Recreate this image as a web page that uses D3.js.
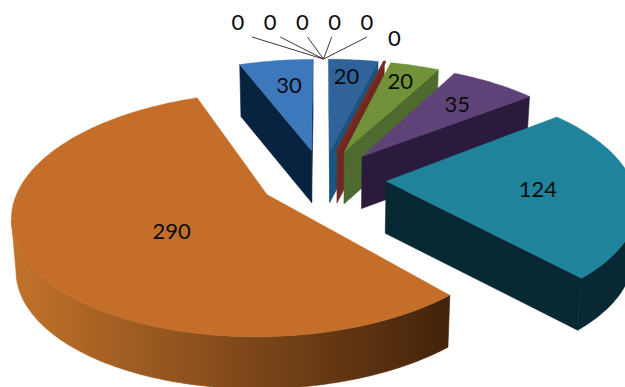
<!DOCTYPE html>
<html>
<head>
<meta charset="utf-8">
<script src="https://cdn.jsdelivr.net/npm/d3@7"></script>
<style>
  html, body { margin: 0; padding: 0; background: #fff; }
  svg { display: block; }
  text { font-family: Lato, "Open Sans", sans-serif; font-size: 22px; fill: #0b0b0b; }
</style>
</head>
<body>
<div id="chart"></div>
<script>
// Slices in clockwise order, beginning with the one left of twelve o'clock.
const categories = ["A", "B", "C", "D", "E", "F", "G", "H", "I", "J", "K", "L"];
const values     = [30, 0, 0, 0, 0, 0, 20, 0, 20, 35, 124, 290];
const topColors  = ["#3d78bc", null, null, null, null, null, "#2f6399", "#7a2a22", "#719239", "#5f4278", "#1f839c", "#c46e29"];
const sideColors = ["#08233f", null, null, null, null, null, "#1a5480", "#6f2820", "#4f6a2e", "#2a1a3c", "#082833", "url(#orangeSide)"];
// Distance of each value label from the pie centre, in radii (null: label sits in the leader fan).
const labelRadius = [0.84, null, null, null, null, null, 0.9, null, 0.88, 0.78, 0.6, 0.45];
// Hand adjustments to the label positions, in pixels.
const labelDX = [8, 0, 0, 0, 0, 0, -5, 0, -7, -10, 3, 7];
const labelDY = [4, 0, 0, 0, 0, 0, 1, 0, -2, -2, -6, 0];

const width = 625, height = 387;
const centreX = 322.5, centreY = 178.6;
const spanX = 245, spanY = 114;   // screen half-extent of the unit pie before perspective
const perspective = 0.16;         // foreshortening toward the back of the pie
const explode = 0.26;             // how far each slice is pulled from the centre
const depth = 52;                 // extrusion height
const taper = 0.985;              // lower rim narrows slightly

const svg = d3.select("#chart").append("svg").attr("width", width).attr("height", height);

const scaleX = d3.scaleLinear().domain([-1, 1]).range([centreX - spanX, centreX + spanX]);
const scaleY = d3.scaleLinear().domain([-1, 1]).range([centreY - spanY, centreY + spanY]);

const total = d3.sum(values);
const firstSweep = values[0] / total * 2 * Math.PI;
const slices = d3.pie().sort(null).value(d => d)
  .startAngle(-firstSweep).endAngle(2 * Math.PI - firstSweep)(values);

// Plane coordinates (x right, y toward the viewer) to screen coordinates.
function project(x, y) {
  const w = 1 - perspective * y;
  return [scaleX(x / w), scaleY(y / w)];
}
function lower(p) {
  return [centreX + (p[0] - centreX) * taper, p[1] + depth];
}
function polar(angle, radius, slice) {
  const mid = (slice.startAngle + slice.endAngle) / 2;
  return project(
    Math.sin(angle) * radius + Math.sin(mid) * explode,
    -Math.cos(angle) * radius - Math.cos(mid) * explode
  );
}

const line = d3.line();

const defs = svg.append("defs");
const gradient = defs.append("linearGradient").attr("id", "orangeSide")
  .attr("gradientUnits", "userSpaceOnUse")
  .attr("x1", 14).attr("x2", 452).attr("y1", 0).attr("y2", 0);
gradient.append("stop").attr("offset", 0).attr("stop-color", "#c2722a");
gradient.append("stop").attr("offset", 1).attr("stop-color", "#42220a");

function drawSide(a, b, fill) {
  // Clockwise traversal on screen: only edges running leftward face the viewer.
  if (b[0] - a[0] >= 0) return;
  svg.append("path")
    .attr("d", line([a, b, lower(b), lower(a)]) + "Z")
    .attr("fill", fill).attr("stroke", fill).attr("stroke-width", 0.6);
}

slices.forEach((s, i) => {
  if (!topColors[i]) return;
  const steps = Math.max(1, Math.ceil((s.endAngle - s.startAngle) / 0.02));
  const rim = d3.range(steps + 1).map(k =>
    polar(s.startAngle + (s.endAngle - s.startAngle) * k / steps, 1, s));
  const apex = polar(0, 0, s);

  drawSide(apex, rim[0], sideColors[i]);
  drawSide(rim[rim.length - 1], apex, sideColors[i]);
  // Rim pieces are joined into one band so the gradient runs unbroken.
  const front = [];
  for (let k = 0; k < rim.length - 1; k++) {
    if (rim[k + 1][0] < rim[k][0]) {
      if (!front.length) front.push(rim[k]);
      front.push(rim[k + 1]);
    }
  }
  if (front.length) {
    svg.append("path")
      .attr("d", line(front.concat(front.map(lower).reverse())) + "Z")
      .attr("fill", sideColors[i])
      .attr("stroke", sideColors[i]).attr("stroke-width", 0.6);
  }

  const zeroSweep = s.endAngle === s.startAngle;
  svg.append("path")
    .attr("d", line([apex, ...rim]) + "Z")
    .attr("fill", topColors[i])
    .attr("stroke", topColors[i])
    .attr("stroke-width", zeroSweep ? 3 : 0.4)
    .attr("stroke-linejoin", "round");
});

// Value labels on the visible slices.
slices.forEach((s, i) => {
  if (labelRadius[i] === null) return;
  const mid = (s.startAngle + s.endAngle) / 2;
  const p = polar(mid, labelRadius[i], s);
  svg.append("text").attr("x", p[0] + labelDX[i]).attr("y", p[1] + 8 + labelDY[i])
    .attr("text-anchor", "middle").attr("dy", "0.35em").text(values[i]);
});

// Zero-valued slices: a row of labels with leader lines fanning into the pie.
const fanIndex = d3.range(values.length).filter(i => labelRadius[i] === null && !topColors[i]);
const fanX = d3.scalePoint().domain(fanIndex).range([238, 367]);
const leaderShift = [14, 10, 5, -3, 0];
const fanRow = 22, leaderTop = 37;
fanIndex.forEach((i, n) => {
  const tip = polar(slices[i].startAngle, 1, slices[i]);
  svg.append("text").attr("x", fanX(i)).attr("y", fanRow)
    .attr("text-anchor", "middle").attr("dy", "0.35em").text(values[i]);
  svg.append("line")
    .attr("x1", fanX(i) + leaderShift[n]).attr("y1", leaderTop)
    .attr("x2", tip[0] + 1).attr("y2", tip[1])
    .attr("stroke", "#222").attr("stroke-width", 0.9);
});

// The drawn zero slice carries its label just beyond its rim.
const redIndex = 7;
const redTip = polar(slices[redIndex].startAngle, 1, slices[redIndex]);
svg.append("text").attr("x", redTip[0] + 10).attr("y", redTip[1] - 24)
  .attr("text-anchor", "middle").attr("dy", "0.35em").text(values[redIndex]);
</script>
</body>
</html>
